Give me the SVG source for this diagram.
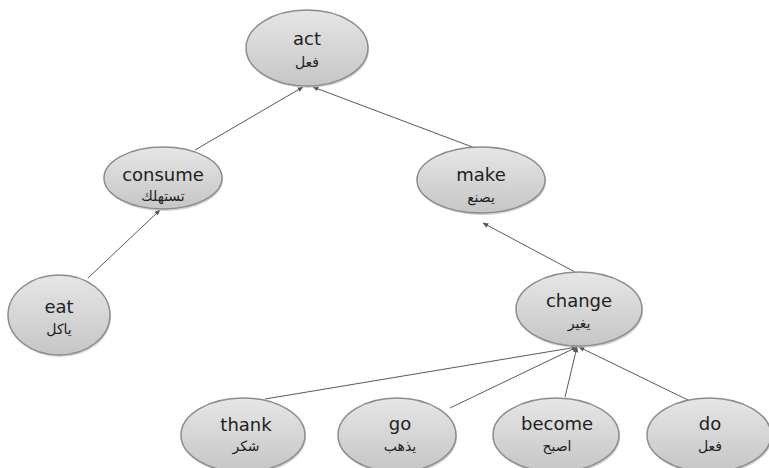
<svg xmlns="http://www.w3.org/2000/svg" width="769" height="468" viewBox="0 0 769 468">
<defs>
<linearGradient id="g" x1="0" y1="0" x2="0" y2="1">
<stop offset="0" stop-color="#e6e6e6"/>
<stop offset="1" stop-color="#c6c6c6"/>
</linearGradient>
<marker id="ah" viewBox="0 0 10 10" refX="9" refY="5" markerWidth="6" markerHeight="6" orient="auto" markerUnits="userSpaceOnUse">
<path d="M0,1 L10,5 L0,9 z" fill="#555"/>
</marker>
<style>
.n ellipse.b{fill:url(#g);stroke:#8c8c8c;stroke-width:1.5}
.n ellipse.s{fill:#b5b5b5;opacity:0.6}
.en{font-family:"DejaVu Sans","Noto Sans",sans-serif;font-size:18px;fill:#222;text-anchor:middle}
.ar{font-family:"DejaVu Sans","Noto Sans",sans-serif;font-size:14px;fill:#222;text-anchor:middle}
.c line{stroke:#5a5a5a;stroke-width:1;marker-end:url(#ah)}
</style>
</defs>
<rect width="769" height="468" fill="#fff"/>
<g class="c" id="connectors">
<line x1="195" y1="150" x2="303" y2="87"/>
<line x1="475" y1="148" x2="313" y2="87"/>
<line x1="88" y1="278" x2="160" y2="210"/>
<line x1="575" y1="272" x2="483" y2="223"/>
<line x1="265" y1="399" x2="577" y2="347"/>
<line x1="450" y1="408" x2="577" y2="347"/>
<line x1="565" y1="397" x2="577" y2="347"/>
<line x1="690" y1="401" x2="579" y2="347"/>
</g>
<g class="n" id="act">
<ellipse class="s" cx="308" cy="50" rx="61" ry="38"/>
<ellipse class="b" cx="307" cy="48" rx="61" ry="38"/>
<text class="en" x="307" y="45">act</text>
<text class="ar" x="307" y="67">فعل</text>
</g>
<g class="n" id="consume">
<ellipse class="s" cx="164" cy="180" rx="59" ry="31"/>
<ellipse class="b" cx="163" cy="178" rx="59" ry="31"/>
<text class="en" x="163" y="181">consume</text>
<text class="ar" x="163" y="201">تستهلك</text>
</g>
<g class="n" id="make">
<ellipse class="s" cx="482" cy="182" rx="64" ry="33"/>
<ellipse class="b" cx="481" cy="180" rx="64" ry="33"/>
<text class="en" x="481" y="181">make</text>
<text class="ar" x="481" y="202">يصنع</text>
</g>
<g class="n" id="eat">
<ellipse class="s" cx="60" cy="317" rx="51" ry="40"/>
<ellipse class="b" cx="59" cy="315" rx="51" ry="40"/>
<text class="en" x="59" y="313">eat</text>
<text class="ar" x="59" y="334">ياكل</text>
</g>
<g class="n" id="change">
<ellipse class="s" cx="580" cy="311" rx="63" ry="37"/>
<ellipse class="b" cx="579" cy="309" rx="63" ry="37"/>
<text class="en" x="579" y="307">change</text>
<text class="ar" x="579" y="328">يغير</text>
</g>
<g class="n" id="thank">
<ellipse class="s" cx="244" cy="437" rx="62" ry="37"/>
<ellipse class="b" cx="243" cy="435" rx="62" ry="37"/>
<text class="en" x="246" y="431">thank</text>
<text class="ar" x="246" y="451">شكر</text>
</g>
<g class="n" id="go">
<ellipse class="s" cx="398" cy="437" rx="59" ry="37"/>
<ellipse class="b" cx="397" cy="435" rx="59" ry="37"/>
<text class="en" x="400" y="430">go</text>
<text class="ar" x="400" y="451">يذهب</text>
</g>
<g class="n" id="become">
<ellipse class="s" cx="557" cy="437" rx="63" ry="37"/>
<ellipse class="b" cx="556" cy="435" rx="63" ry="37"/>
<text class="en" x="557" y="430">become</text>
<text class="ar" x="557" y="451">اصبح</text>
</g>
<g class="n" id="do">
<ellipse class="s" cx="710" cy="437" rx="62" ry="37"/>
<ellipse class="b" cx="709" cy="435" rx="62" ry="37"/>
<text class="en" x="710" y="430">do</text>
<text class="ar" x="710" y="451">فعل</text>
</g>
</svg>
